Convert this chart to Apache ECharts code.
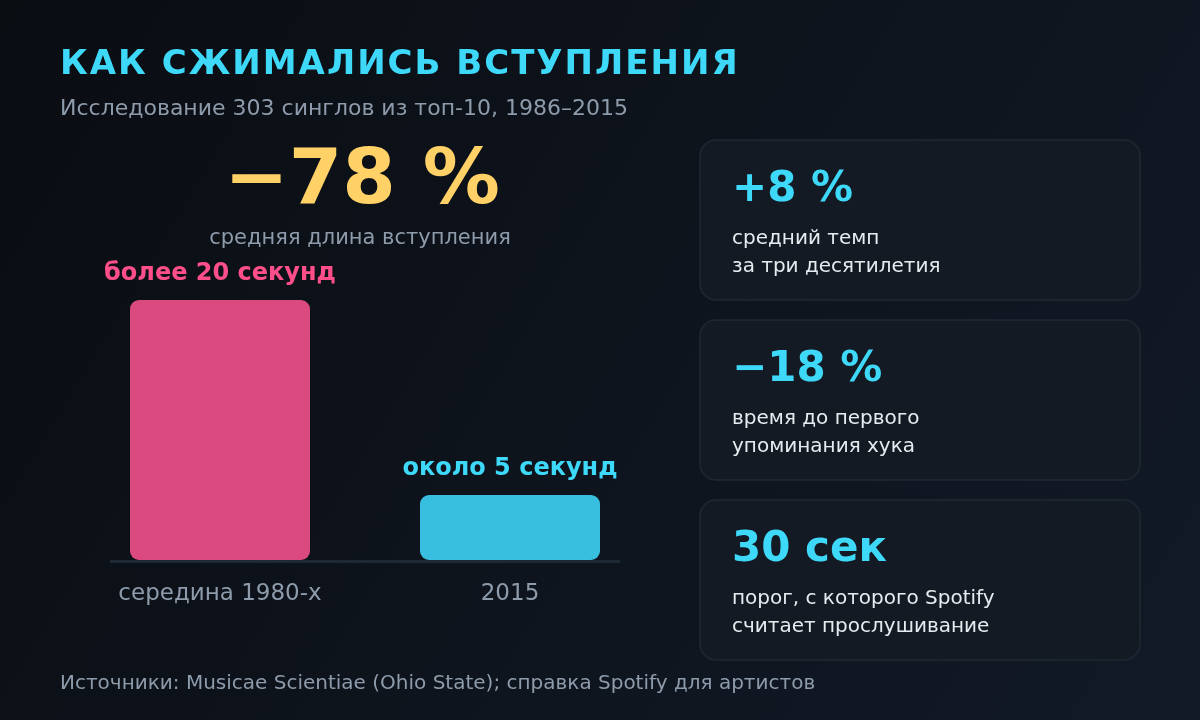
<!DOCTYPE html>
<html lang="ru">
<head>
    <meta charset="UTF-8">
    <title>Как сжимались вступления</title>
    <style>
        html, body { margin: 0; padding: 0; background: #0d1117; }
    </style>
</head>
<body>
<div id="main" style="width:1200px;height:720px;"></div>

<script src="https://cdn.jsdelivr.net/npm/echarts@6/dist/echarts.min.js"></script>
<script>
    // данные
    var categories = ['середина 1980-х', '2015'];
    var introSeconds = [20, 5];
    var barLabels = ['более 20 секунд', 'около 5 секунд'];
    var cardValues = ['+8 %', '−18 %', '30 сек'];
    var cardLines = [
        ['средний темп', 'за три десятилетия'],
        ['время до первого', 'упоминания хука'],
        ['порог, с которого Spotify', 'считает прослушивание']
    ];

    var barColors = ['#db4a7e', '#38bfdf'];
    var labelColors = ['#ff4f8b', '#3ed8f9'];
    var FONT = 'DejaVu Sans';

    // разрядка только для заголовка (canvas letterSpacing)
    var origFillText = CanvasRenderingContext2D.prototype.fillText;
    CanvasRenderingContext2D.prototype.fillText = function (t, x, y, w) {
        var f = this.font;
        this.letterSpacing = f.indexOf('34px') >= 0 ? '2px' : '0px';
        this.font = f;
        if (w === undefined) origFillText.call(this, t, x, y);
        else origFillText.call(this, t, x, y, w);
        this.letterSpacing = '0px';
        this.font = f;
    };

    var myChart = echarts.init(document.getElementById('main'), null, {renderer: 'canvas'});

    var graphics = [];
    // карточки справа
    cardValues.forEach(function (val, i) {
        var top = 140 + i * 180;
        graphics.push({
            type: 'rect',
            shape: {x: 700, y: top, width: 440, height: 160, r: 16},
            style: {fill: '#141a23', stroke: '#1f2833', lineWidth: 1.5},
            z: 1
        });
        graphics.push({
            type: 'text', x: 732, y: top + 50, z: 2,
            style: {text: val, fill: '#3ed8f9', font: 'bold 42px ' + FONT, verticalAlign: 'middle'}
        });
        cardLines[i].forEach(function (line, j) {
            graphics.push({
                type: 'text', x: 732, y: top + 99 + j * 27.5, z: 2,
                style: {text: line, fill: '#e6ebf0', font: '20px ' + FONT, verticalAlign: 'middle'}
            });
        });
    });
    // заголовки и подписи
    graphics.push(
        {type: 'text', x: 60, y: 65, z: 2,
            style: {text: 'КАК СЖИМАЛИСЬ ВСТУПЛЕНИЯ', fill: '#3ed8f9', font: 'bold 34px ' + FONT, verticalAlign: 'middle'}},
        {type: 'text', x: 60, y: 109.5, z: 2,
            style: {text: 'Исследование 303 синглов из топ-10, 1986–2015', fill: '#8d9bab', font: '22px ' + FONT, verticalAlign: 'middle'}},
        {type: 'text', x: 362, y: 183, z: 2,
            style: {text: '−78 %', fill: '#ffd166', font: 'bold 77px ' + FONT, align: 'center', verticalAlign: 'middle'}},
        {type: 'text', x: 360, y: 238.5, z: 2,
            style: {text: 'средняя длина вступления', fill: '#8d9bab', font: '21px ' + FONT, align: 'center', verticalAlign: 'middle'}},
        {type: 'text', x: 60, y: 683.5, z: 2,
            style: {text: 'Источники: Musicae Scientiae (Ohio State); справка Spotify для артистов', fill: '#8d9bab', font: '20px ' + FONT, verticalAlign: 'middle'}},
        {type: 'line', z: 0,
            shape: {x1: 110, y1: 561.5, x2: 620, y2: 561.5},
            style: {stroke: '#1e2936', lineWidth: 3}}
    );

    myChart.setOption({
        backgroundColor: new echarts.graphic.LinearGradient(0, 0, 1, 1, [
            {offset: 0, color: '#0a0d12'},
            {offset: 1, color: '#121a27'}
        ]),
        animation: false,
        textStyle: {fontFamily: FONT},
        grid: {left: 75, right: 545, top: 300, bottom: 160},
        xAxis: {
            type: 'category',
            data: categories,
            axisLine: {show: false},
            axisTick: {show: false},
            axisLabel: {color: '#8d9bab', fontSize: 23, margin: 23, fontFamily: FONT}
        },
        yAxis: {
            type: 'value',
            min: 0,
            max: 20,
            show: false
        },
        series: [{
            type: 'bar',
            barWidth: 180,
            z: 3,
            data: introSeconds.map(function (v, i) {
                return {
                    value: v,
                    itemStyle: {color: barColors[i], borderRadius: 9},
                    label: {color: labelColors[i]}
                };
            }),
            label: {
                show: true,
                position: 'top',
                distance: 14,
                fontSize: 24,
                fontWeight: 'bold',
                fontFamily: FONT,
                formatter: function (p) { return barLabels[p.dataIndex]; }
            }
        }],
        graphic: graphics
    });
</script>
</body>
</html>
